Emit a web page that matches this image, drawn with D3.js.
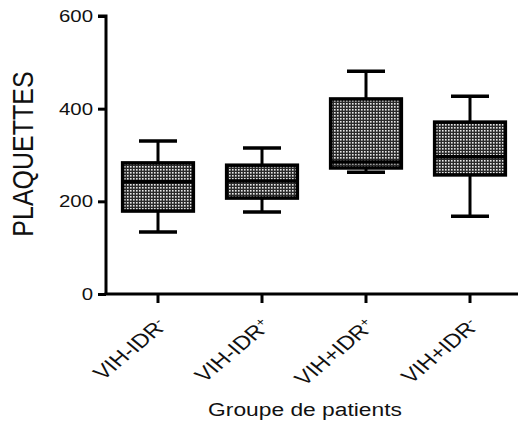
<!DOCTYPE html>
<html><head><meta charset="utf-8">
<script src="https://cdn.jsdelivr.net/npm/d3@7"></script>
<style>body{margin:0;background:#fff}svg{display:block}text{font-family:"Liberation Sans",Arial,sans-serif}</style>
</head><body><svg id="c" width="518" height="426"></svg>
<script>
const groups = [
  {base:"VIH-IDR", sup:"-"},
  {base:"VIH-IDR", sup:"+"},
  {base:"VIH+IDR", sup:"+"},
  {base:"VIH+IDR", sup:"-"}
];
const whiskerLow  = [134, 177, 263, 168];
const q1          = [179, 207, 272, 257];
const median      = [242, 244, 285, 296];
const q3          = [283, 278, 421, 371];
const whiskerHigh = [330, 315, 481, 427];
const yTicks = [0, 200, 400, 600];

const SX = 1.2; // horizontal stretch of glyphs in the reference
const svg = d3.select("#c");
const defs = svg.append("defs");
const pat = defs.append("pattern").attr("id","dots").attr("patternUnits","userSpaceOnUse")
  .attr("width",3).attr("height",3);
pat.append("rect").attr("width",3).attr("height",3).attr("fill","#2a2a2a");
pat.append("rect").attr("x",1).attr("y",1).attr("width",1.6).attr("height",1.6).attr("fill","#e8e8e8");

const x = d3.scaleBand().domain(d3.range(groups.length)).range([106, 522]).paddingInner(0.32).paddingOuter(0.16);
const y = d3.scaleLinear().domain([0, 600]).range([294, 16]);

const g = svg.append("g");
const yAxis = svg.append("g").attr("transform","translate(106,0)")
  .call(d3.axisLeft(y).tickValues(yTicks).tickSize(8).tickPadding(2));
yAxis.select(".domain").attr("stroke-width",3).attr("d","M-8,"+y(600)+"H0V"+y(0));
yAxis.selectAll(".tick line").attr("stroke-width",3);
yAxis.selectAll(".tick text").attr("font-size",17).attr("fill","#111")
  .attr("x", -13/SX).attr("transform",`scale(${SX},1)`);

const cx = i => x(i) + x.bandwidth()/2;
const xAxis = svg.append("g").attr("transform","translate(0,294)");
xAxis.append("line").attr("x1",104.5).attr("x2",518).attr("y1",0).attr("y2",0).attr("stroke","#000").attr("stroke-width",3);
groups.forEach((d,i)=>{
  xAxis.append("line").attr("x1",cx(i)).attr("x2",cx(i)).attr("y1",0).attr("y2",9).attr("stroke","#000").attr("stroke-width",3);
  const t = xAxis.append("text").attr("text-anchor","end").attr("font-size",19.5).attr("fill","#111")
    .attr("transform",`translate(${cx(i)+10},${33}) scale(${SX},1) rotate(-45)`);
  t.append("tspan").text(d.base);
  t.append("tspan").attr("baseline-shift","super").attr("font-size",12).text(d.sup);
});

const capW = 38;
groups.forEach((d,i)=>{
  const c = cx(i), bw = x.bandwidth();
  g.append("line").attr("x1",c).attr("x2",c).attr("y1",y(whiskerHigh[i])).attr("y2",y(q3[i])).attr("stroke","#000").attr("stroke-width",3);
  g.append("line").attr("x1",c).attr("x2",c).attr("y1",y(q1[i])).attr("y2",y(whiskerLow[i])).attr("stroke","#000").attr("stroke-width",3);
  g.append("line").attr("x1",c-capW/2).attr("x2",c+capW/2).attr("y1",y(whiskerHigh[i])).attr("y2",y(whiskerHigh[i])).attr("stroke","#000").attr("stroke-width",3.5);
  g.append("line").attr("x1",c-capW/2).attr("x2",c+capW/2).attr("y1",y(whiskerLow[i])).attr("y2",y(whiskerLow[i])).attr("stroke","#000").attr("stroke-width",3.5);
  g.append("rect").attr("x",x(i)).attr("width",bw).attr("y",y(q3[i])).attr("height",y(q1[i])-y(q3[i]))
    .attr("fill","url(#dots)").attr("stroke","#000").attr("stroke-width",3.5);
  g.append("line").attr("x1",x(i)).attr("x2",x(i)+bw).attr("y1",y(median[i])).attr("y2",y(median[i])).attr("stroke","#000").attr("stroke-width",3.5);
});

svg.append("text").attr("transform",`translate(33,154) scale(${SX},1) rotate(-90)`).attr("text-anchor","middle")
  .attr("font-size",25).attr("fill","#111").text("PLAQUETTES");
svg.append("text").attr("transform",`translate(305,416) scale(${SX},1)`).attr("text-anchor","middle")
  .attr("font-size",19).attr("fill","#111").text("Groupe de patients");
</script></body></html>
